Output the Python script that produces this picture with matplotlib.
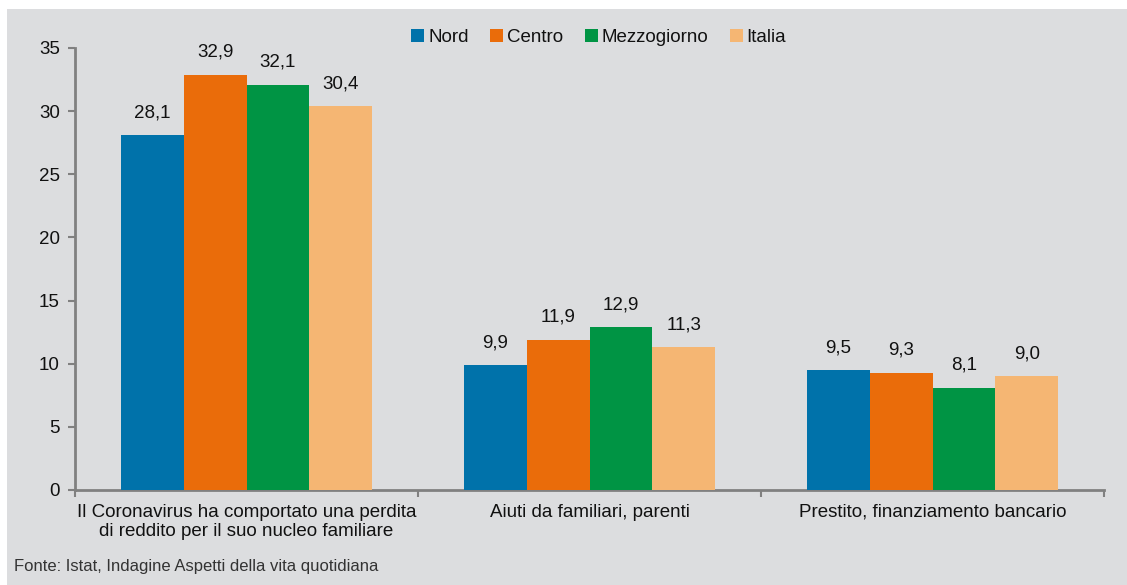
import matplotlib
matplotlib.use("Agg")
import matplotlib.pyplot as plt
import numpy as np
from matplotlib.patches import Rectangle

categories = ["Il Coronavirus ha comportato una perdita\ndi reddito per il suo nucleo familiare",
              "Aiuti da familiari, parenti",
              "Prestito, finanziamento bancario"]
series = ["Nord", "Centro", "Mezzogiorno", "Italia"]
nord = [28.1, 9.9, 9.5]
centro = [32.9, 11.9, 9.3]
mezzogiorno = [32.1, 12.9, 8.1]
italia = [30.4, 11.3, 9.0]
values = [nord, centro, mezzogiorno, italia]
colors = ["#0072AA", "#EA6C0A", "#009444", "#F5B673"]
yticks = [0, 5, 10, 15, 20, 25, 30, 35]
source = "Fonte: Istat, Indagine Aspetti della vita quotidiana"

plt.rcParams['font.family'] = ['Liberation Sans', 'DejaVu Sans']
bg = "#DCDDDF"
W, H = 1127, 585
fs = 13.5
fig = plt.figure(figsize=(W/100, H/100), dpi=100)
fig.patch.set_facecolor("white")
fig.patches.append(Rectangle((7/W, 0), 1 - 7/W, 1 - 9/H, transform=fig.transFigure,
                             facecolor=bg, edgecolor="none", zorder=-10))

ax = fig.add_axes([75/W, 1 - 490/H, (1104-75)/W, (490-48)/H])
ax.set_facecolor("none")

x = np.arange(len(categories))
bw = 0.183
for i, (s, vals, c) in enumerate(zip(series, values, colors)):
    pos = x + (i - 1.5) * bw
    bars = ax.bar(pos, vals, width=bw, color=c, label=s, zorder=3)
    for b, v in zip(bars, vals):
        ax.annotate(f"{v:.1f}".replace(".", ","), (b.get_x() + b.get_width()/2, v),
                    xytext=(0, 10), textcoords="offset points",
                    ha="center", va="bottom", fontsize=fs, color="#111111")

ax.set_xlim(-0.5, 2.5)
ax.set_ylim(0, 35)
ax.set_yticks(yticks)
ax.tick_params(axis="y", labelsize=fs, length=5, width=1.5, color="#808080", pad=6, labelcolor="#111111")
ax.set_xticks(x)
ax.set_xticklabels(categories, fontsize=fs, color="#111111")
ax.tick_params(axis="x", which="major", length=0, pad=10)
ax.set_xticks([-0.5, 0.5, 1.5, 2.5], minor=True)
ax.tick_params(axis="x", which="minor", length=5, width=1.5, color="#808080")
for sp in ["top", "right"]:
    ax.spines[sp].set_visible(False)
for sp in ["left", "bottom"]:
    ax.spines[sp].set_color("#808080")
    ax.spines[sp].set_linewidth(2)

leg = ax.legend(loc="upper center", bbox_to_anchor=(0.509, 1.081), ncol=4, frameon=False,
                fontsize=fs, handlelength=0.7, handleheight=0.7, handletextpad=0.2,
                columnspacing=1.15)
for t in leg.get_texts():
    t.set_color("#111111")

fig.text(14/W, 1 - 571/H, source, fontsize=12,
         family=['Liberation Sans Narrow', 'Liberation Sans', 'DejaVu Sans'],
         color="#333333", va="baseline", ha="left")

fig.savefig("out.png", dpi=100)
